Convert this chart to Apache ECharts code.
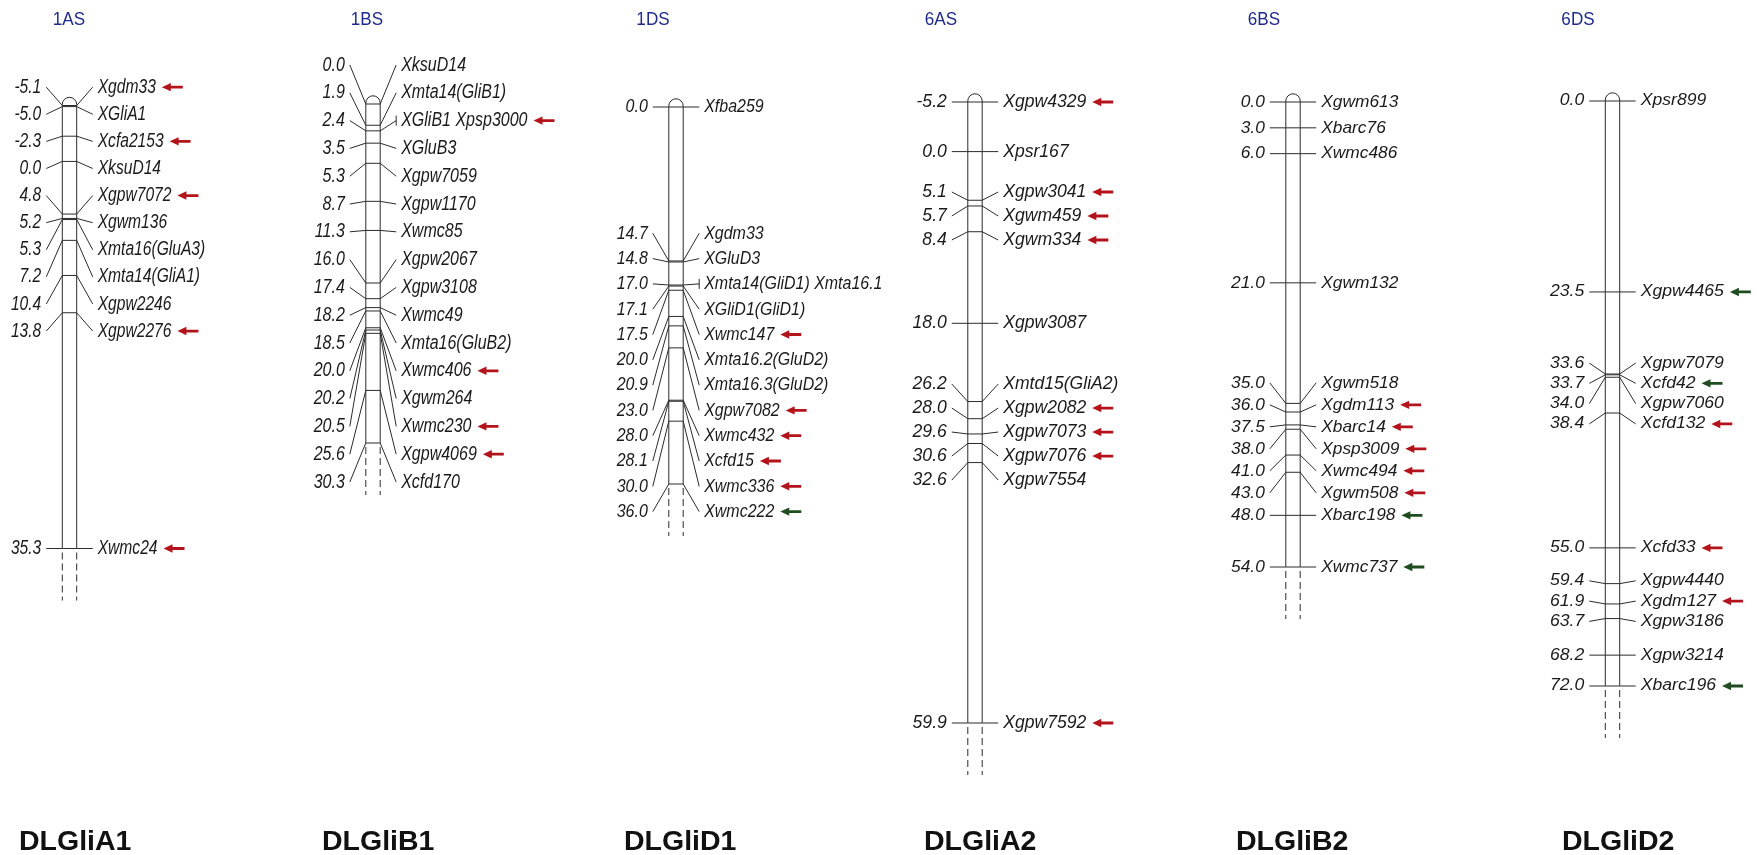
<!DOCTYPE html>
<html>
<head>
<meta charset="utf-8">
<script src="https://cdn.jsdelivr.net/npm/echarts@6/dist/echarts.min.js"></script>
<style>
  html, body { margin: 0; padding: 0; background: #fff; }
  #chart { width: 1762px; height: 855px; }
</style>
</head>
<body>
<div id="chart"></div>
<script>
// ---- Linkage map data: positions in cM, marker names, arrow flags ('r' red, 'g' green) ----
const chromosomes = ['1AS', '1BS', '1DS', '6AS', '6BS', '6DS'];
const groupNames = ['DLGliA1', 'DLGliB1', 'DLGliD1', 'DLGliA2', 'DLGliB2', 'DLGliD2'];

const pos1AS = [-5.1, -5.0, -2.3, 0.0, 4.8, 5.2, 5.3, 7.2, 10.4, 13.8, 35.3];
const names1AS = ['Xgdm33', 'XGliA1', 'Xcfa2153', 'XksuD14', 'Xgpw7072', 'Xgwm136', 'Xmta16(GluA3)', 'Xmta14(GliA1)', 'Xgpw2246', 'Xgpw2276', 'Xwmc24'];
const arrows1AS = ['r', '', 'r', '', 'r', '', '', '', '', 'r', 'r'];

const pos1BS = [0.0, 1.9, 2.4, 3.5, 5.3, 8.7, 11.3, 16.0, 17.4, 18.2, 18.5, 20.0, 20.2, 20.5, 25.6, 30.3];
const names1BS = ['XksuD14', 'Xmta14(GliB1)', 'XGliB1 Xpsp3000', 'XGluB3', 'Xgpw7059', 'Xgpw1170', 'Xwmc85', 'Xgpw2067', 'Xgpw3108', 'Xwmc49', 'Xmta16(GluB2)', 'Xwmc406', 'Xgwm264', 'Xwmc230', 'Xgpw4069', 'Xcfd170'];
const arrows1BS = ['', '', 'r', '', '', '', '', '', '', '', '', 'r', '', 'r', 'r', ''];

const pos1DS = [0.0, 14.7, 14.8, 17.0, 17.1, 17.5, 20.0, 20.9, 23.0, 28.0, 28.1, 30.0, 36.0];
const names1DS = ['Xfba259', 'Xgdm33', 'XGluD3', 'Xmta14(GliD1) Xmta16.1', 'XGliD1(GliD1)', 'Xwmc147', 'Xmta16.2(GluD2)', 'Xmta16.3(GluD2)', 'Xgpw7082', 'Xwmc432', 'Xcfd15', 'Xwmc336', 'Xwmc222'];
const arrows1DS = ['', '', '', '', '', 'r', '', '', 'r', 'r', 'r', 'r', 'g'];

const pos6AS = [-5.2, 0.0, 5.1, 5.7, 8.4, 18.0, 26.2, 28.0, 29.6, 30.6, 32.6, 59.9];
const names6AS = ['Xgpw4329', 'Xpsr167', 'Xgpw3041', 'Xgwm459', 'Xgwm334', 'Xgpw3087', 'Xmtd15(GliA2)', 'Xgpw2082', 'Xgpw7073', 'Xgpw7076', 'Xgpw7554', 'Xgpw7592'];
const arrows6AS = ['r', '', 'r', 'r', 'r', '', '', 'r', 'r', 'r', '', 'r'];

const pos6BS = [0.0, 3.0, 6.0, 21.0, 35.0, 36.0, 37.5, 38.0, 41.0, 43.0, 48.0, 54.0];
const names6BS = ['Xgwm613', 'Xbarc76', 'Xwmc486', 'Xgwm132', 'Xgwm518', 'Xgdm113', 'Xbarc14', 'Xpsp3009', 'Xwmc494', 'Xgwm508', 'Xbarc198', 'Xwmc737'];
const arrows6BS = ['', '', '', '', '', 'r', 'r', 'r', 'r', 'r', 'g', 'g'];

const pos6DS = [0.0, 23.5, 33.6, 33.7, 34.0, 38.4, 55.0, 59.4, 61.9, 63.7, 68.2, 72.0];
const names6DS = ['Xpsr899', 'Xgpw4465', 'Xgpw7079', 'Xcfd42', 'Xgpw7060', 'Xcfd132', 'Xcfd33', 'Xgpw4440', 'Xgdm127', 'Xgpw3186', 'Xgpw3214', 'Xbarc196'];
const arrows6DS = ['', 'g', '', 'g', '', 'r', 'r', '', 'r', '', '', 'g'];

const positions = [pos1AS, pos1BS, pos1DS, pos6AS, pos6BS, pos6DS];
const markerNames = [names1AS, names1BS, names1DS, names6AS, names6BS, names6DS];
const arrowFlags = [arrows1AS, arrows1BS, arrows1DS, arrows6AS, arrows6BS, arrows6DS];

// ---- Panel layout (pixels): bar centre, span of the cM axis, text size / stretch, label pitch ----
const panels = [
  { cx: 69.5,   top: 105.5, bottom: 548.5, fs: 20,   sx: 0.78, step: 27.1, titleX: 69 },
  { cx: 373,    top: 104,   bottom: 443,   fs: 20,   sx: 0.80, step: 27.8, titleX: 367 },
  { cx: 676,    top: 107,   bottom: 484,   fs: 19,   sx: 0.84, step: 25.3, titleX: 653 },
  { cx: 975,    top: 102,   bottom: 723,   fs: 18.5, sx: 0.95, step: 24,   titleX: 941 },
  { cx: 1293,   top: 102,   bottom: 567,   fs: 17,   sx: 1.02, step: 22,   titleX: 1264 },
  { cx: 1612.5, top: 101,   bottom: 686,   fs: 16,   sx: 1.10, step: 20.3, titleX: 1578 }
];
const groupLabelX = [19, 322, 624, 924, 1236, 1562];

const HALF_W = 7.2;      // half width of the chromosome bar
const LINK = 16;         // length of the connector between bar and label
const TEXT_GAP = 5;      // gap between connector end and text
const TAIL = 52;         // dashed tail below the last marker
const LINE_COLOR = '#2b2b2b';
const TEXT_COLOR = '#1a1a1a';
const ARROW_COLORS = { r: '#b3141c', g: '#1f4d1f' };
const FONT_FAMILY = '"Liberation Sans", Arial, sans-serif';

const measureCtx = document.createElement('canvas').getContext('2d');
function textWidth(str, fs) {
  measureCtx.font = 'italic ' + fs + 'px ' + FONT_FAMILY;
  return measureCtx.measureText(str).width;
}

// Spread labels so they keep a minimum pitch; each cluster is centred on its markers.
function spread(ys, step) {
  let cl = ys.map((y, i) => ({ a: i, b: i }));
  const place = c => {
    const mid = (ys[c.a] + ys[c.b]) / 2;
    c.top = mid - (c.b - c.a) * step / 2;
    c.bot = c.top + (c.b - c.a) * step;
  };
  cl.forEach(place);
  let merged = true;
  while (merged) {
    merged = false;
    for (let j = 0; j < cl.length - 1; j++) {
      if (cl[j + 1].top - cl[j].bot < step - 0.01) {
        const c = { a: cl[j].a, b: cl[j + 1].b };
        place(c);
        cl.splice(j, 2, c);
        merged = true;
        break;
      }
    }
  }
  const out = [];
  cl.forEach(c => { for (let i = c.a; i <= c.b; i++) out[i] = c.top + (i - c.a) * step; });
  return out;
}

function lineEl(x1, y1, x2, y2, extra) {
  return Object.assign({
    type: 'line',
    shape: { x1: x1, y1: y1, x2: x2, y2: y2 },
    style: { stroke: LINE_COLOR, lineWidth: 1 },
    silent: true
  }, extra || {});
}

function arrowEl(tipX, y, color) {
  const len = 21, headLen = 9, headH = 4.2, shaftH = 1.4;
  return {
    type: 'polygon',
    shape: {
      points: [
        [tipX, y], [tipX + headLen, y - headH], [tipX + headLen, y - shaftH],
        [tipX + len, y - shaftH], [tipX + len, y + shaftH],
        [tipX + headLen, y + shaftH], [tipX + headLen, y + headH]
      ]
    },
    style: { fill: color },
    silent: true
  };
}

function makeRenderer(k) {
  const P = panels[k];
  const pos = positions[k];
  const names = markerNames[k];
  const flags = arrowFlags[k];
  let cache = null;
  return function (params, api) {
    const i = params.dataIndex;
    if (i === 0 || !cache) {
      const ys = pos.map(v => api.coord([0, v])[1]);
      cache = { cx: api.coord([0, pos[0]])[0], ys: ys, ly: spread(ys, P.step) };
    }
    const cx = cache.cx, y = cache.ys[i], ly = cache.ly[i];
    const xl = cx - HALF_W, xr = cx + HALF_W;
    const children = [];

    if (i === 0) {
      // chromosome body: rounded top, two edges, dashed tail
      const capY = cache.ys[0] - 1;
      const lastY = cache.ys[cache.ys.length - 1];
      children.push({
        type: 'arc',
        shape: { cx: cx, cy: capY, r: HALF_W, startAngle: Math.PI, endAngle: Math.PI * 2 },
        style: { stroke: LINE_COLOR, lineWidth: 1, fill: null },
        silent: true
      });
      children.push(lineEl(xl, capY, xl, lastY));
      children.push(lineEl(xr, capY, xr, lastY));
      children.push(lineEl(xl, lastY + 4, xl, lastY + TAIL, { style: { stroke: LINE_COLOR, lineWidth: 1, lineDash: [7, 4] } }));
      children.push(lineEl(xr, lastY + 4, xr, lastY + TAIL, { style: { stroke: LINE_COLOR, lineWidth: 1, lineDash: [7, 4] } }));
    }

    // marker tick across the bar and connectors to both labels
    children.push(lineEl(xl, y, xr, y));
    children.push(lineEl(xl, y, xl - LINK, ly));
    children.push(lineEl(xr, y, xr + LINK, ly));
    if (names[i].indexOf(' ') > 0) {
      children.push(lineEl(xr + LINK, ly - 5, xr + LINK, ly + 5));
    }

    const font = { fontSize: P.fs, fontStyle: 'italic', fontFamily: FONT_FAMILY };
    children.push({
      type: 'text', x: xl - LINK - TEXT_GAP, y: ly, scaleX: P.sx, silent: true,
      style: Object.assign({ text: pos[i].toFixed(1), x: 0, y: 0, align: 'right', verticalAlign: 'middle', fill: TEXT_COLOR }, font)
    });
    const nameX = xr + LINK + TEXT_GAP;
    children.push({
      type: 'text', x: nameX, y: ly, scaleX: P.sx, silent: true,
      style: Object.assign({ text: names[i], x: 0, y: 0, align: 'left', verticalAlign: 'middle', fill: TEXT_COLOR }, font)
    });
    if (flags[i]) {
      const endX = nameX + textWidth(names[i], P.fs) * P.sx;
      children.push(arrowEl(endX + 6, ly, ARROW_COLORS[flags[i]]));
    }
    return { type: 'group', children: children };
  };
}

const grids = [], xAxes = [], yAxes = [], series = [];
panels.forEach((P, k) => {
  const pos = positions[k];
  grids.push({ left: P.cx - 10, width: 20, top: P.top, height: P.bottom - P.top });
  xAxes.push({ gridIndex: k, type: 'value', min: -1, max: 1, show: false });
  yAxes.push({ gridIndex: k, type: 'value', min: pos[0], max: pos[pos.length - 1], inverse: true, show: false });
  series.push({
    type: 'custom',
    xAxisIndex: k,
    yAxisIndex: k,
    clip: false,
    silent: true,
    renderItem: makeRenderer(k),
    data: pos.map(v => [0, v])
  });
});

const graphics = [];
chromosomes.forEach((name, k) => {
  const P = panels[k];
  graphics.push({
    type: 'text', x: P.titleX, y: 20, scaleX: 0.9, silent: true,
    style: { text: name, x: 0, y: 0, align: 'center', verticalAlign: 'middle', fill: '#1f2a8c', fontSize: 19, fontFamily: FONT_FAMILY }
  });
});
groupNames.forEach((name, k) => {
  graphics.push({
    type: 'text', x: groupLabelX[k], y: 842, silent: true,
    style: { text: name, x: 0, y: 0, align: 'left', verticalAlign: 'middle', fill: '#111', fontSize: 28.5, fontWeight: 'bold', fontFamily: FONT_FAMILY }
  });
});

const chart = echarts.init(document.getElementById('chart'), null, { renderer: 'canvas' });
chart.setOption({
  backgroundColor: '#ffffff',
  animation: false,
  grid: grids,
  xAxis: xAxes,
  yAxis: yAxes,
  series: series,
  graphic: graphics
});
</script>
</body>
</html>
